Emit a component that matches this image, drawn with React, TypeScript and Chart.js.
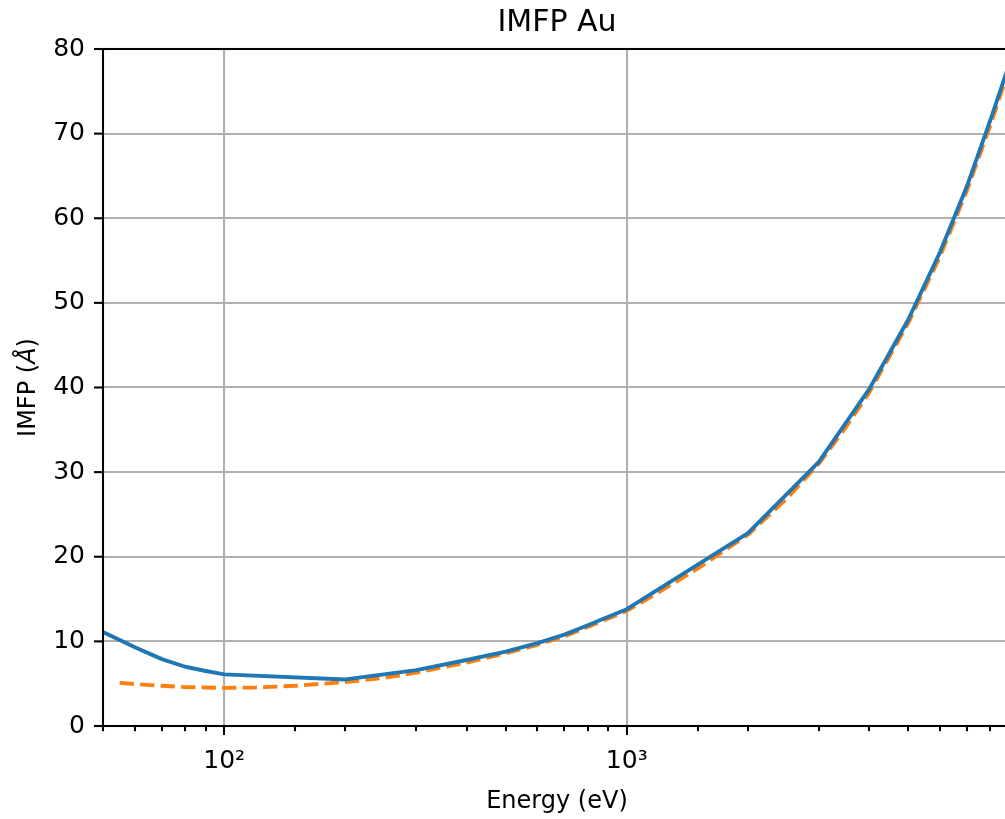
import React, { useEffect, useRef } from "react";
import { Chart, registerables } from "chart.js";
Chart.register(...registerables);

// ---- data ----
const energyBlue = [50, 60, 70, 80, 90, 100, 200, 300, 400, 500, 600, 700, 800, 900, 1000, 2000, 3000, 4000, 5000, 6000, 7000, 8000, 9000];
const imfpBlue = [11.1, 9.3, 7.9, 7.0, 6.5, 6.1, 5.5, 6.6, 7.8, 8.8, 9.8, 10.8, 11.9, 12.9, 13.8, 22.8, 31.2, 39.8, 48.0, 56.0, 63.8, 71.6, 78.8];

const energyOrange = [55, 60, 70, 80, 90, 100, 120, 150, 200, 250, 300, 400, 500, 600, 700, 800, 900, 1000, 1200, 1500, 2000, 2500, 3000, 3500, 4000, 5000, 6000, 7000, 8000, 9000];
const imfpOrange = [5.1, 4.95, 4.75, 4.6, 4.55, 4.5, 4.55, 4.75, 5.2, 5.7, 6.3, 7.5, 8.6, 9.6, 10.6, 11.7, 12.7, 13.6, 15.8, 18.6, 22.6, 26.9, 31.0, 35.3, 39.4, 47.6, 55.5, 63.3, 71.0, 78.3];

const xMin = 50;
const xMax = 9000;
const yMin = 0;
const yMax = 80;
const yStep = 10;
const xTickLabels: Record<number, string> = { 100: "10\u00B2", 1000: "10\u00B3" };

const titleText = "IMFP Au";
const xTitle = "Energy (eV)";
const yTitleParts = ["IMFP (", "\u00C5", ")"];

const FONT = "'DejaVu Sans', sans-serif";
const PT = 2.58;

function isPow10(v: number) {
  if (!v) return false;
  const l = Math.log10(v);
  return Math.abs(l - Math.round(l)) < 1e-9;
}

export default function App() {
  const ref = useRef<HTMLCanvasElement>(null);

  useEffect(() => {
    const canvas = ref.current!;
    const framePlugin = {
      id: "frame",
      afterDraw(chart: any) {
        const { ctx, chartArea: a, scales } = chart;
        const xs = scales.x;
        const ys = scales.y;
        ctx.save();
        ctx.strokeStyle = "#000";
        ctx.lineWidth = 0.8 * PT;
        // x ticks
        xs.ticks.forEach((t: any) => {
          const len = isPow10(t.value) ? 3.5 * PT : 2 * PT;
          const px = Math.round(xs.getPixelForValue(t.value));
          ctx.beginPath();
          ctx.moveTo(px, a.bottom);
          ctx.lineTo(px, a.bottom + len);
          ctx.stroke();
        });
        // y ticks
        ys.ticks.forEach((t: any) => {
          const py = ys.getPixelForValue(t.value);
          ctx.beginPath();
          ctx.moveTo(a.left - 3.5 * PT, py);
          ctx.lineTo(a.left, py);
          ctx.stroke();
        });
        // spines
        ctx.strokeRect(a.left, a.top, a.right - a.left, a.bottom - a.top);

        // axis titles
        ctx.fillStyle = "#000";
        ctx.font = `24px ${FONT}`;
        ctx.textAlign = "center";
        ctx.textBaseline = "alphabetic";
        ctx.fillText(xTitle, (a.left + a.right) / 2, 808);

        ctx.translate(35, (a.top + a.bottom) / 2);
        ctx.rotate(-Math.PI / 2);
        ctx.textAlign = "left";
        const fonts = [`24px ${FONT}`, `italic 24px ${FONT}`, `24px ${FONT}`];
        let total = 0;
        const widths = yTitleParts.map((p, i) => {
          ctx.font = fonts[i];
          const w = ctx.measureText(p).width;
          total += w;
          return w;
        });
        let cx = -total / 2;
        yTitleParts.forEach((p, i) => {
          ctx.font = fonts[i];
          ctx.fillText(p, cx, 0);
          cx += widths[i];
        });
        ctx.restore();
      },
    };

    const chart = new Chart(canvas, {
      type: "line",
      data: {
        datasets: [
          {
            label: "blue",
            data: energyBlue.map((e, i) => ({ x: e, y: imfpBlue[i] })),
            borderColor: "#1f77b4",
            backgroundColor: "#1f77b4",
            borderWidth: 1.5 * PT,
            pointRadius: 0,
            tension: 0,
            borderJoinStyle: "round",
          },
          {
            label: "orange",
            data: energyOrange.map((e, i) => ({ x: e, y: imfpOrange[i] })),
            borderColor: "#ff7f0e",
            backgroundColor: "#ff7f0e",
            borderWidth: 1.5 * PT,
            borderDash: [5.55 * PT, 2.4 * PT],
            borderCapStyle: "butt",
            pointRadius: 0,
            tension: 0,
            borderJoinStyle: "round",
          },
        ],
      },
      options: {
        animation: false,
        responsive: false,
        devicePixelRatio: 1,
        layout: { padding: { left: 0, right: 7, top: 0, bottom: 0 } },
        plugins: {
          legend: { display: false },
          tooltip: { enabled: false },
          title: {
            display: true,
            text: titleText,
            color: "#000",
            font: { family: FONT, size: 30, weight: "normal" as any, lineHeight: 1.2 },
            padding: { top: 5, bottom: 8 },
            fullSize: false,
          },
        },
        scales: {
          x: {
            type: "logarithmic",
            min: xMin,
            max: xMax,
            afterFit: (s: any) => {
              s.height = 93;
            },
            border: { display: false },
            grid: {
              drawTicks: false,
              lineWidth: 0.8 * PT,
              color: (c: any) => (c.tick && isPow10(c.tick.value) ? "#b0b0b0" : "rgba(0,0,0,0)"),
            },
            ticks: {
              autoSkip: false,
              maxRotation: 0,
              minRotation: 0,
              padding: 7 * PT + 2,
              color: "#000",
              font: { family: FONT, size: 25 },
              callback: (v: any) => xTickLabels[Number(v)] ?? "",
            },
          },
          y: {
            type: "linear",
            min: yMin,
            max: yMax,
            afterFit: (s: any) => {
              s.width = 103;
            },
            border: { display: false },
            grid: {
              drawTicks: false,
              lineWidth: 0.8 * PT,
              color: "#b0b0b0",
            },
            ticks: {
              stepSize: yStep,
              padding: 7 * PT,
              color: "#000",
              font: { family: FONT, size: 25 },
            },
          },
        },
      },
      plugins: [framePlugin],
    });
    return () => chart.destroy();
  }, []);

  return (
    <div style={{ position: "absolute", left: 0, top: 0, width: 1005, height: 819, overflow: "hidden", background: "#fff" }}>
      <canvas ref={ref} width={1031} height={819} style={{ display: "block" }} />
    </div>
  );
}
